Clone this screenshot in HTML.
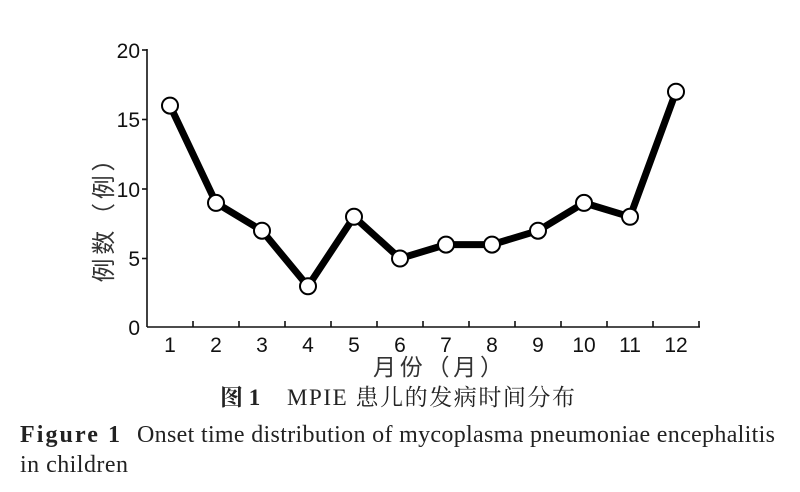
<!DOCTYPE html>
<html><head><meta charset="utf-8"><style>
body{margin:0;background:#fff;}
svg{display:block;}
</style></head><body>
<svg width="800" height="492" xmlns="http://www.w3.org/2000/svg">
<rect width="800" height="492" fill="#fff"/>
<g stroke="#111" stroke-width="1.6" fill="none">
<line x1="147" y1="49" x2="147" y2="327"/>
<line x1="147" y1="327" x2="700" y2="327"/>
<line x1="142" y1="50" x2="147" y2="50"/>
<line x1="142" y1="119.5" x2="147" y2="119.5"/>
<line x1="142" y1="189" x2="147" y2="189"/>
<line x1="142" y1="258.5" x2="147" y2="258.5"/>
<line x1="193" y1="321" x2="193" y2="327"/>
<line x1="239" y1="321" x2="239" y2="327"/>
<line x1="285" y1="321" x2="285" y2="327"/>
<line x1="331" y1="321" x2="331" y2="327"/>
<line x1="377" y1="321" x2="377" y2="327"/>
<line x1="423" y1="321" x2="423" y2="327"/>
<line x1="469" y1="321" x2="469" y2="327"/>
<line x1="515" y1="321" x2="515" y2="327"/>
<line x1="561" y1="321" x2="561" y2="327"/>
<line x1="607" y1="321" x2="607" y2="327"/>
<line x1="653" y1="321" x2="653" y2="327"/>
<line x1="699" y1="321" x2="699" y2="327"/>
</g>
<g font-family="Liberation Sans, sans-serif" font-size="21" fill="#111" text-anchor="end">
<text x="140" y="58">20</text>
<text x="140" y="127">15</text>
<text x="140" y="197">10</text>
<text x="140" y="266">5</text>
<text x="140" y="335">0</text>
</g>
<g font-family="Liberation Sans, sans-serif" font-size="21" fill="#111" text-anchor="middle">
<text x="170" y="352">1</text><text x="216" y="352">2</text><text x="262" y="352">3</text>
<text x="308" y="352">4</text><text x="354" y="352">5</text><text x="400" y="352">6</text>
<text x="446" y="352">7</text><text x="492" y="352">8</text><text x="538" y="352">9</text>
<text x="584" y="352">10</text><text x="630" y="352">11</text><text x="676" y="352">12</text>
</g>
<text x="438" y="375" font-family="Liberation Sans, Noto Sans CJK SC, sans-serif" font-size="23" fill="#333" text-anchor="middle" textLength="130">月份（月）</text>
<text transform="translate(112,215) rotate(-90)" font-family="Liberation Sans, Noto Sans CJK SC, sans-serif" font-size="24" fill="#333" text-anchor="middle" textLength="135">例数（例）</text>
<polyline fill="none" stroke="#000" stroke-width="7" stroke-linejoin="round" points="170,105.6 216,202.9 262,230.7 308,286.3 354,216.8 400,258.5 446,244.6 492,244.6 538,230.7 584,202.9 630,216.8 676,91.7"/>
<g fill="#fff" stroke="#000" stroke-width="2">
<circle cx="170" cy="105.6" r="8"/><circle cx="216" cy="202.9" r="8"/><circle cx="262" cy="230.7" r="8"/>
<circle cx="308" cy="286.3" r="8"/><circle cx="354" cy="216.8" r="8"/><circle cx="400" cy="258.5" r="8"/>
<circle cx="446" cy="244.6" r="8"/><circle cx="492" cy="244.6" r="8"/><circle cx="538" cy="230.7" r="8"/>
<circle cx="584" cy="202.9" r="8"/><circle cx="630" cy="216.8" r="8"/><circle cx="676" cy="91.7" r="8"/>
</g>
<text x="220" y="405" font-family="Liberation Serif, Noto Serif CJK SC, serif" font-size="23" fill="#222" font-weight="bold">图 1</text>
<text x="287" y="405" font-family="Liberation Serif, Noto Serif CJK SC, serif" font-size="23" fill="#222" textLength="288">MPIE 患儿的发病时间分布</text>
<text x="20" y="442" font-family="Liberation Serif, serif" font-size="24" fill="#222" font-weight="bold" textLength="100">Figure 1</text>
<text x="137" y="442" font-family="Liberation Serif, serif" font-size="24" fill="#222" textLength="638">Onset time distribution of mycoplasma pneumoniae encephalitis</text>
<text x="20" y="472" font-family="Liberation Serif, serif" font-size="24" fill="#222" textLength="108">in children</text>
</svg>
</body></html>
